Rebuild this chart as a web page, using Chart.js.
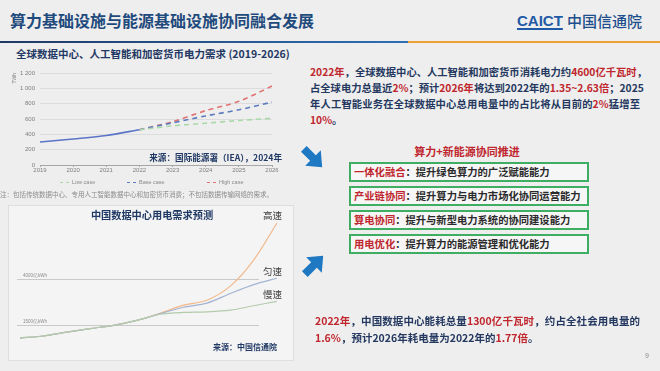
<!DOCTYPE html>
<html>
<head>
<meta charset="utf-8">
<script src="https://cdn.jsdelivr.net/npm/chart.js@4.4.0/dist/chart.umd.min.js"></script>
<style>
  html, body { margin: 0; padding: 0; }
  body { width: 660px; height: 371px; background: #eeeeee; position: relative; overflow: hidden;
         font-family: 'Noto Sans CJK SC', 'Noto Sans', sans-serif; }
  .abs { position: absolute; white-space: nowrap; }
  .navy { color: #1f3864; }
  .red { color: #c0262d; }
  .para { position: absolute; font-weight: 700; color: #243860; }
  .para div { white-space: nowrap; }
  .just { text-align: justify; text-align-last: justify; }
  .box { position: absolute; left: 349px; width: 233px; height: 16px; border: 2px solid #3fae62;
         background: #f6f6f6; font-size: 10.3px; font-weight: 700; line-height: 16px; padding-left: 3px; color: #2a2a2a; }
  canvas { position: absolute; }
</style>
</head>
<body>
<!-- header -->
<div class="abs" style="left:10px; top:9px; font-size:16px; line-height:22px; font-weight:700; color:#1f4a7c;">算力基础设施与能源基础设施协同融合发展</div>
<div class="abs" style="left:517px; top:10px; font-family:'Liberation Sans', Arial, sans-serif; font-size:15px; line-height:22px; font-weight:700; color:#1f5aa6; text-decoration:underline; text-decoration-thickness:2px; text-underline-offset:2px;">CAICT</div>
<div class="abs" style="left:567px; top:10px; font-size:15px; line-height:22px; font-weight:500; color:#1f4e8c;">中国信通院</div>
<div class="abs" style="left:0; top:41px; width:408px; height:2px; background:linear-gradient(90deg,#1f3864,#2f6fb4);"></div>
<div class="abs" style="left:408px; top:41px; width:252px; height:2px; background:#ee9f35;"></div>

<!-- chart 1 -->
<div class="abs navy" style="left:16px; top:46px; font-size:10.5px; line-height:16px; font-weight:700;">全球数据中心、人工智能和加密货币电力需求 (2019-2026)</div>
<canvas id="demandChart" width="290" height="115" style="left:0; top:62px;"></canvas>
<div class="abs navy" style="right:378px; top:151px; font-size:8.6px; line-height:13px; font-weight:700;">来源：国际能源署（IEA），2024年</div>
<div id="legend1" class="abs" style="left:0; top:177px; width:290px; height:10px; font-family:'Liberation Sans', Arial, sans-serif; font-size:5.5px; color:#8a8a8a;"></div>
<div class="abs" style="left:0; top:189px; font-size:6.5px; line-height:10px; color:#8c8c8c;">注：包括传统数据中心、专用人工智能数据中心和加密货币消费；不包括数据传输网络的需求。</div>

<!-- chart 2 -->
<div class="abs" style="left:8px; top:205px; width:284px; height:154px; background:#f4f4f4; border:1px solid #dedede;"></div>
<canvas id="chinaChart" width="300" height="171" style="left:0; top:190px;"></canvas>
<div class="abs navy" style="left:152px; top:208px; transform:translateX(-50%); font-size:10.2px; line-height:14px; font-weight:700;">中国数据中心用电需求预测</div>
<div class="abs" style="left:263px; top:208px; font-size:9.5px; line-height:14px; color:#3a3a3a;">高速</div>
<div class="abs" style="left:263px; top:264px; font-size:9.5px; line-height:14px; color:#3a3a3a;">匀速</div>
<div class="abs" style="left:263px; top:287px; font-size:9.5px; line-height:14px; color:#3a3a3a;">慢速</div>
<div class="abs navy" style="right:383px; top:340px; font-size:8px; line-height:13px; font-weight:700;">来源：中国信通院</div>

<!-- right side text -->
<div class="para" style="left:310px; top:64px; width:330px; font-size:10.3px; line-height:15.9px;">
  <div class="just"><span class="red">2022年</span>，全球数据中心、人工智能和加密货币消耗电力约<span class="red">4600亿千瓦时</span>，</div>
  <div class="just">占全球电力总量近<span class="red">2%</span>；预计<span class="red">2026年</span>将达到2022年的<span class="red">1.35~2.63倍</span>；2025</div>
  <div class="just">年人工智能业务在全球数据中心总用电量中的占比将从目前的<span class="red">2%</span>猛增至</div>
  <div><span class="red">10%</span>。</div>
</div>

<svg class="abs" style="left:298px; top:143px;" width="30" height="30" viewBox="0 0 30 30">
  <polygon points="2,11 15,11 15,4 28,15 15,26 15,19 2,19" fill="#1e78c2" transform="rotate(45 15 15)"/>
</svg>
<svg class="abs" style="left:299px; top:250px;" width="30" height="30" viewBox="0 0 30 30">
  <polygon points="2,11 15,11 15,4 28,15 15,26 15,19 2,19" fill="#1e78c2" transform="rotate(-45 15 15)"/>
</svg>

<div class="abs red" style="left:467px; top:144px; transform:translateX(-50%); font-size:11px; line-height:15px; font-weight:700;">算力+新能源协同推进</div>
<div class="box" style="top:162px;"><span class="red">一体化融合</span>：提升绿色算力的广泛赋能能力</div>
<div class="box" style="top:186px;"><span class="red">产业链协同</span>：提升算力与电力市场化协同运营能力</div>
<div class="box" style="top:210px;"><span class="red">算电协同</span>：提升与新型电力系统的协同建设能力</div>
<div class="box" style="top:234px;"><span class="red">用电优化</span>：提升算力的能源管理和优化能力</div>

<div class="para" style="left:315px; top:313px; width:325px; font-size:10.5px; line-height:16.6px;">
  <div class="just"><span class="red">2022年</span>，中国数据中心能耗总量<span class="red">1300亿千瓦时</span>，约占全社会用电量的</div>
  <div><span class="red">1.6%</span>，预计2026年耗电量为2022年的<span class="red">1.77倍</span>。</div>
</div>
<div class="abs" style="left:645px; top:351px; font-family:'Liberation Sans', Arial, sans-serif; font-size:7px; line-height:10px; color:#8c8c8c;">9</div>

<script>
// ---- data: global demand (IEA) ----
const years1 = ['2019', '2020', '2021', '2022', '2023', '2024', '2025', '2026'];
const historyValues = [300, 340, 385, 460, null, null, null, null];
const lowCase = [null, null, null, 460, 510, 545, 580, 610];
const baseCase = [null, null, null, 460, 550, 640, 720, 820];
const highCase = [null, null, null, 460, 565, 710, 830, 1030];
const caseNames = ['Low case', 'Base case', 'High case'];
const caseColors = ['#a9d9a9', '#5b7bbf', '#e07272'];

// ---- data: China data center demand (亿kWh) ----
const years2 = ['2019年', '2020年', '2021年', '2022年', '2023年', '2024年', '2025年', '2026年', '2027年', '2028年', '2029年', '2030年'];
const highSpeed = [810, 920, 1130, 1320, 1500, 1770, 2150, 2590, 2860, 3620, 5030, 7040];
const evenSpeed = [810, 920, 1130, 1320, 1500, 1770, 2130, 2480, 2700, 3220, 3700, 4050];
const slowSpeed = [810, 920, 1130, 1320, 1500, 1770, 2100, 2200, 2230, 2320, 2560, 2800];
const refValues = [4000, 1500];
const refLabels = ['4000亿kWh', '1500亿kWh'];

const fmtSpace = v => String(v).replace(/\B(?=(\d{3})+(?!\d))/g, ' ');

// legend for chart 1
const legendX = [60, 127, 207];
const legendEl = document.getElementById('legend1');
caseNames.forEach((name, i) => {
    const item = document.createElement('div');
    item.style.cssText = 'position:absolute; top:0; left:' + legendX[i] + 'px; display:flex; align-items:center; height:10px;';
    item.innerHTML = '<span style="display:inline-block; width:9px; border-top:1.2px dashed ' + caseColors[i] + '; margin-right:3px;"></span>' + name;
    legendEl.appendChild(item);
});

const dashed = (label, data, color) => ({
    label: label, data: data, borderColor: color, borderWidth: 1.6,
    borderDash: [5, 4], pointRadius: 0, tension: 0.3, spanGaps: false
});

new Chart(document.getElementById('demandChart'), {
    type: 'line',
    data: {
        labels: years1,
        datasets: [
            { label: 'History', data: historyValues, borderColor: '#5a74c8', borderWidth: 1.6, pointRadius: 0, tension: 0.3 },
            dashed(caseNames[0], lowCase, caseColors[0]),
            dashed(caseNames[1], baseCase, caseColors[1]),
            dashed(caseNames[2], highCase, caseColors[2])
        ]
    },
    options: {
        responsive: false,
        animation: false,
        devicePixelRatio: 1,
        layout: { padding: { left: 8, right: 18, top: 11, bottom: 0 } },
        plugins: { legend: { display: false }, tooltip: { enabled: false } },
        scales: {
            x: {
                offset: false,
                grid: { drawOnChartArea: false, drawTicks: true, tickLength: 2, color: '#a6a6a6' },
                border: { color: '#a6a6a6' },
                ticks: { font: { size: 6, family: 'Liberation Sans' }, color: '#7f7f7f', padding: 0, maxRotation: 0 },
                afterFit(scale) { scale.height = 12; }
            },
            y: {
                min: 0, max: 1200,
                grid: { color: '#dcdcdc', drawTicks: false },
                border: { display: false },
                ticks: { stepSize: 200, font: { size: 6, family: 'Liberation Sans' }, color: '#7f7f7f', padding: 5, callback: v => fmtSpace(v) },
                title: { display: true, text: 'TWh', align: 'end', font: { size: 5, family: 'Liberation Sans' }, color: '#7f7f7f', padding: { top: 4, bottom: 0 } },
                afterFit(scale) { scale.width = 32; }
            }
        }
    }
});

const refLinePlugin = {
    id: 'refLines',
    beforeDatasetsDraw(chart) {
        const { ctx, chartArea, scales } = chart;
        ctx.save();
        ctx.strokeStyle = '#c9c9c9';
        ctx.lineWidth = 1;
        ctx.fillStyle = '#8a8a8a';
        ctx.font = '4.5px "Liberation Sans", sans-serif';
        refValues.forEach((v, i) => {
            const py = Math.round(scales.y.getPixelForValue(v)) + 0.5;
            ctx.beginPath();
            ctx.moveTo(chartArea.left - 3, py);
            ctx.lineTo(chartArea.left + (chartArea.right - chartArea.left) * 0.93, py);
            ctx.stroke();
            ctx.fillText(refLabels[i], chartArea.left + 3, py - 2.5);
        });
        ctx.restore();
    }
};

const solid = (data, color) => ({ data: data, borderColor: color, borderWidth: 1.2, pointRadius: 0, tension: 0.3 });

new Chart(document.getElementById('chinaChart'), {
    type: 'line',
    data: {
        labels: years2,
        datasets: [
            solid(slowSpeed, '#b3cbab'),
            solid(evenSpeed, '#a3b4d3'),
            solid(highSpeed, '#f2b88a')
        ]
    },
    options: {
        responsive: false,
        animation: false,
        devicePixelRatio: 1,
        layout: { padding: { left: 20, right: 23, top: 19, bottom: 0 } },
        plugins: { legend: { display: false }, tooltip: { enabled: false } },
        scales: {
            x: {
                offset: false,
                grid: { display: false },
                border: { display: false },
                ticks: { font: { size: 3.6, family: 'Noto Sans CJK SC' }, color: '#9a9a9a', padding: 2, maxRotation: 0, autoSkip: false },
                afterFit(scale) { scale.height = 8; }
            },
            y: { display: false, min: 0, max: 7800 }
        }
    },
    plugins: [refLinePlugin]
});
</script>
</body>
</html>
